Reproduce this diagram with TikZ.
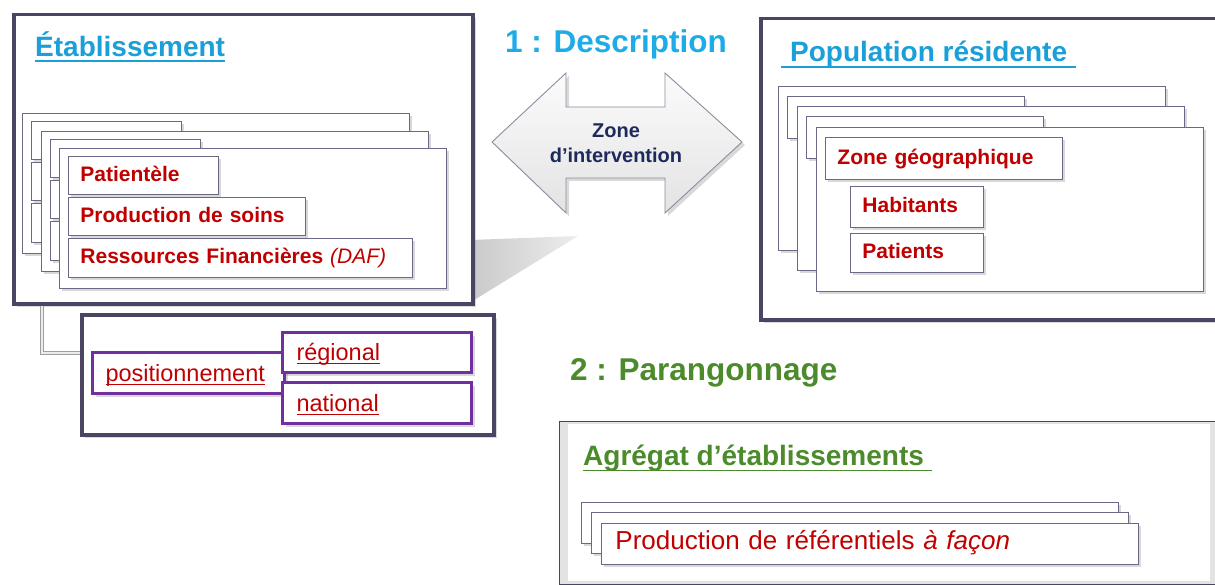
\documentclass[tikz,border=0pt]{standalone}
\usepackage{fontspec}
\setmainfont{Liberation Sans}
\usetikzlibrary{shadows}
\definecolor{frameC}{HTML}{4B4462}
\definecolor{cardC}{HTML}{6B6786}
\definecolor{titleC}{HTML}{1A9FD9}
\definecolor{descC}{HTML}{1EABE6}
\definecolor{greenC}{HTML}{4B8B2B}
\definecolor{redC}{HTML}{C00000}
\definecolor{purpC}{HTML}{7030A0}
\definecolor{navyC}{HTML}{1F2A5C}
\definecolor{arrowC}{HTML}{8C8CA0}
\newcommand\fsz[1]{\fontsize{#1}{#1}\selectfont}
\newcommand\undl[3]{\setbox0=\hbox{#3}\rlap{\vrule width\wd0 height -#1 depth \dimexpr#1+#2\relax}\box0}
\begin{document}
\begin{tikzpicture}[x=1pt, y=-1pt,
	box/.style={draw=cardC, line width=0.9pt, fill=white,
		drop shadow={shadow xshift=3pt, shadow yshift=-3pt, opacity=.3}},
	frame/.style={box, draw=frameC, line width=3.5pt, anchor=north west, inner sep=0pt},
	card/.style={box, anchor=north west, inner sep=0pt},
	tab/.style={box, anchor=north west, inner xsep=12pt, inner ysep=0pt, align=left,
		text=redC, font=\fsz{21}\bfseries, text height=16pt, text depth=4pt},
	posbox/.style={box, draw=purpC, line width=3pt, anchor=north west, inner xsep=13pt,
		inner ysep=0pt, align=left, text=redC, font=\fsz{23.5}, text height=19pt, text depth=3pt},
	title/.style={anchor=base west, inner sep=0pt, font=\fsz{28}\bfseries},
	head/.style={anchor=base west, inner sep=0pt, font=\fsz{31.5}\bfseries},
	conn/.style={draw=gray!75, double=gray!15, double distance=2.2pt, line width=1pt}]
	\useasboundingbox (0,0) rectangle (1215,585);
	\clip (0,0) rectangle (1215,585);
	% shadow behind the left frame
	\shade[left color=gray!42, right color=gray!14] (471,240) -- (578,236) -- (471,302) -- cycle;
	% etablissement
	\node[frame, minimum width=459pt, minimum height=289pt] (etab) at (12,13) {};
	\node[title, text=titleC] (etabtitle) at (35,57) {\undl{3pt}{1.6pt}{Établissement}};
	\foreach \dx/\dy in {37/35,18/17}
		{
			\draw[box] (59-\dx,148-\dy) rectangle ++(387,140);
			\draw[box] (68-\dx,156-\dy) rectangle ++(150,38);
			\draw[box] (68-\dx,197-\dy) rectangle ++(237,38);
			\draw[box] (68-\dx,238-\dy) rectangle ++(344,39);
		}
	\node[card, minimum width=387pt, minimum height=140pt] (etabcard) at (59,148) {};
	\node[tab, text width=126pt, minimum height=38pt] (patient) at (68,156) {Patientèle};
	\node[tab, text width=213pt, minimum height=38pt] (soins) at (68,197) {Production de soins};
	\node[tab, text width=320pt, minimum height=39pt] (daf) at (68,238)
		{Ressources Financières \textmd{\textit{(DAF)}}};
	% positionnement
	\node[frame, minimum width=412pt, minimum height=120pt] (posframe) at (80,313) {};
	\draw[conn] ([xshift=30pt]etab.south west) |- ([yshift=22pt]posframe.west);
	\node[posbox, text width=166pt, minimum height=41pt] (posit) at (91,351)
		{\undl{2.5pt}{1.3pt}{positionnement}};
	\node[posbox, text width=161pt, inner xsep=14pt, minimum height=40pt] (regional) at (281,331)
		{\undl{2.5pt}{1.3pt}{régional}};
	\node[posbox, text width=161pt, inner xsep=14pt, minimum height=41pt] (national) at (281,381)
		{\undl{2.5pt}{1.3pt}{national}};
	% description
	\node[head, text=descC] (desc) at (505,53) {1 : Description};
	\draw[draw=arrowC, line width=0.9pt, top color=gray!3, bottom color=gray!22,
		drop shadow={shadow xshift=3pt, shadow yshift=-3pt, opacity=.3}]
		(492,142) -- (566,73) -- (566,107) -- (665,107) -- (665,73) -- (742,142)
		-- (665,213) -- (665,178) -- (566,178) -- (566,213) -- cycle;
	\node[font=\fontsize{20}{25}\selectfont\bfseries, text=navyC, align=center] (zone) at (616,143)
		{Zone\\d’intervention};
	% population residente
	\node[frame, minimum width=471pt, minimum height=301pt] (popframe) at (759,17) {};
	\node[title, text=titleC] (poptitle) at (781,62)
		{\undl{4pt}{1.6pt}{\kern9pt Population résidente\kern9pt}};
	\foreach \dx/\dy in {38/41,19/20.5}
		{
			\draw[box] (816-\dx,127-\dy) rectangle ++(387,164);
			\draw[box] (825-\dx,137-\dy) rectangle ++(237,42);
		}
	\node[card, minimum width=387pt, minimum height=164pt] (popcard) at (816,127) {};
	\node[tab, text width=213pt, minimum height=42pt] (zonegeo) at (825,137) {Zone géographique};
	\node[tab, text width=109pt, minimum height=41pt] (habitants) at (850,186) {Habitants};
	\node[tab, text width=109pt, minimum height=39pt] (patients) at (850,233) {Patients};
	% parangonnage
	\node[head, text=greenC] (parang) at (570,380) {2 : Parangonnage};
	\node[frame, line width=1pt, fill=gray!22, minimum width=660pt, minimum height=163pt]
		(aggframe) at (559,421) {};
	\fill[white] (568,423.5) rectangle (1210,581);
	\node[title, text=greenC] (aggtitle) at (583,465)
		{\undl{4.5pt}{1.6pt}{Agrégat d’établissements\kern8pt}};
	\foreach \dx/\dy in {20/21,10/11}
		{
			\draw[box] (601-\dx,523-\dy) rectangle ++(537,41);
		}
	\node[tab, font=\fsz{26}, text width=509pt, inner xsep=14pt, minimum height=41pt]
		(referent) at (601,523) {Production de référentiels \textit{à façon}};
\end{tikzpicture}
\end{document}
